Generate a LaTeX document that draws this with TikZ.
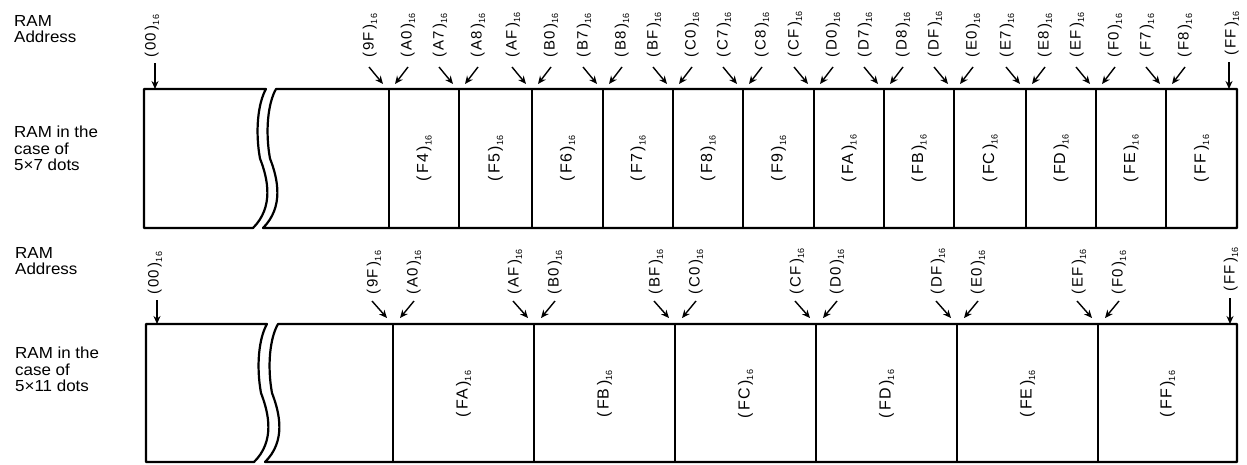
\documentclass[tikz,border=0pt]{standalone}
\usepackage{fontspec}
\setmainfont{Liberation Sans}
\newfontfamily\lblfont{Liberation Sans}[LetterSpace=6]
\newfontfamily\sidefont{Liberation Sans}[FakeStretch=1.06]
\usetikzlibrary{arrows.meta}
\newcommand{\hx}[1]{(\,#1\,)\raisebox{-3.5pt}{\fontsize{9}{9}\selectfont 16}}
\begin{document}
\begin{tikzpicture}[x=1pt,y=-1pt,
  box/.style={line width=2.2pt, line join=round},
  divl/.style={line width=2.2pt},
  addr/.style={rotate=90, anchor=west, inner sep=0pt, font=\lblfont\fontsize{15}{15}\selectfont},
  cell/.style={rotate=90, inner sep=0pt, font=\lblfont\fontsize{16}{16}\selectfont},
  arr/.style={line width=1.4pt, -{Stealth[length=8pt,width=7pt]}},
  side/.style={anchor=north west, inner sep=0pt, align=left, font=\sidefont\fontsize{16}{16.5}\selectfont}]
\useasboundingbox (0,0) rectangle (1247,464);

% ---------- side texts ----------
\node[side] (ta) at (14,15) {RAM\\Address};
\node[side] (tr) at (14,126) {RAM in the\\case of\\5×7 dots};
\node[side] (ba) at (15,247) {RAM\\Address};
\node[side] (br) at (15,347) {RAM in the\\case of\\5×11 dots};

% ---------- top panel boxes ----------
\draw[box] (144,89) -- (266,89) .. controls (258,103) and (255,131) .. (260,158.5)
  .. controls (268,179) and (274,207) .. (253,228) -- (144,228) -- cycle;
\draw[box] (1237,89) -- (276,89) .. controls (268,103) and (265,131) .. (270,158.5)
  .. controls (278,179) and (284,207) .. (263,228) -- (1237,228) -- cycle;
\foreach \d in {389,459,532,603,673,743,814,884,954,1026,1096,1166}
  \draw[divl] (\d,89) -- (\d,228);

% cell labels (top)
\foreach \a/\b/\t in {389/459/F4,459/532/F5,532/603/F6,603/673/F7,673/743/F8,743/814/F9,
  814/884/FA,884/954/FB,954/1026/FC,1026/1096/FD,1096/1166/FE,1166/1237/FF}
  \node[cell] (tc\t) at ({(\a+\b)/2},158.5) {\hx{\t}};

% address labels and arrows (top)
\node[addr] (t00) at (152,58) {\hx{00}};
\coordinate (t00s) at (155,63); \coordinate (t00t) at (155,89);
\draw[arr] (t00s) -- (t00t);
\node[addr] (tFF) at (1232,56) {\hx{FF}};
\coordinate (tFFs) at (1229,62); \coordinate (tFFt) at (1229,89);
\draw[arr] (tFFs) -- (tFFt);
\foreach \d/\l/\r [count=\i] in {389/9F/A0,459/A7/A8,532/AF/B0,603/B7/B8,673/BF/C0,743/C7/C8,
  814/CF/D0,884/D7/D8,954/DF/E0,1026/E7/E8,1096/EF/F0,1166/F7/F8}{
  \node[addr] (tl\i) at (\d-19,58) {\hx{\l}};
  \node[addr] (tr\i) at (\d+19,58) {\hx{\r}};
  \coordinate (tls\i) at (\d-20,67); \coordinate (tlt\i) at (\d-6,84);
  \coordinate (trs\i) at (\d+19,67); \coordinate (trt\i) at (\d+6,84);
  \draw[arr] (tls\i) -- (tlt\i);
  \draw[arr] (trs\i) -- (trt\i);
}

% ---------- bottom panel boxes ----------
\draw[box] (146,324) -- (267,324) .. controls (259,337.8) and (256,365.4) .. (261,393)
  .. controls (269,413.7) and (275,441.3) .. (254,462) -- (146,462) -- cycle;
\draw[box] (1237,324) -- (278,324) .. controls (270,337.8) and (267,365.4) .. (272,393)
  .. controls (280,413.7) and (286,441.3) .. (265,462) -- (1237,462) -- cycle;
\foreach \d in {393,534,675,816,957,1098}
  \draw[divl] (\d,324) -- (\d,462);

\foreach \a/\b/\t in {393/534/FA,534/675/FB,675/816/FC,816/957/FD,957/1098/FE,1098/1237/FF}
  \node[cell] (bc\t) at ({(\a+\b)/2},394) {\hx{\t}};

\node[addr] (b00) at (155,295) {\hx{00}};
\coordinate (b00s) at (157,300); \coordinate (b00t) at (157,324);
\draw[arr] (b00s) -- (b00t);
\node[addr] (bFF) at (1231,292) {\hx{FF}};
\coordinate (bFFs) at (1230,298); \coordinate (bFFt) at (1230,324);
\draw[arr] (bFFs) -- (bFFt);
\foreach \d/\l/\r [count=\i] in {393/9F/A0,534/AF/B0,675/BF/C0,816/CF/D0,957/DF/E0,1098/EF/F0}{
  \node[addr] (bl\i) at (\d-19,295) {\hx{\l}};
  \node[addr] (br\i) at (\d+21,295) {\hx{\r}};
  \coordinate (bls\i) at (\d-21,301); \coordinate (blt\i) at (\d-6,318);
  \coordinate (brs\i) at (\d+21,301); \coordinate (brt\i) at (\d+7,318);
  \draw[arr] (bls\i) -- (blt\i);
  \draw[arr] (brs\i) -- (brt\i);
}
\end{tikzpicture}
\end{document}
